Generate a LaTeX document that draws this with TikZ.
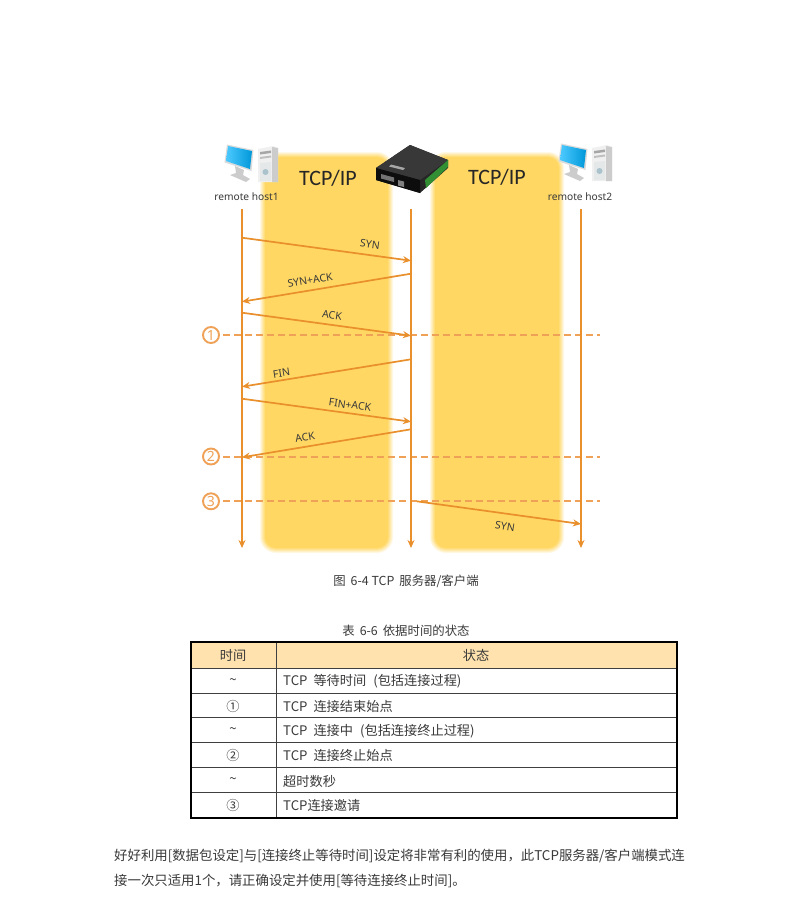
\documentclass[tikz,border=0pt]{standalone}
\usepackage{fontspec}
\setmainfont{Noto Sans CJK SC}
\newfontfamily\latinlabel{Noto Sans}
\newfontfamily\titlefont{Carlito}
\usetikzlibrary{arrows.meta}
\definecolor{bandc}{HTML}{FFD762}
\definecolor{flowc}{HTML}{E98F2B}
\definecolor{dashc}{HTML}{EFA257}
\definecolor{inkc}{HTML}{3A3A3A}
\definecolor{headc}{HTML}{FFE2AE}
\tikzset{
  x=1pt,y=-1pt,
  lifeline/.style={draw=flowc,line width=1.7pt,-{Stealth[length=8pt,width=7pt]}},
  message/.style={draw=flowc,line width=1.7pt,-{Stealth[length=8pt,width=7pt]}},
  timeline/.style={draw=dashc,line width=1.7pt,dash pattern=on 6.5pt off 4.5pt},
  msglabel/.style={font=\latinlabel\fontsize{10.5}{12}\selectfont,text=inkc,inner sep=0pt},
  hostlabel/.style={font=\latinlabel\fontsize{10.2}{12}\selectfont,text=inkc,inner sep=0pt},
  bandtitle/.style={font=\titlefont\fontsize{22}{24}\selectfont,text=black!85,inner sep=0pt},
  stepnum/.style={circle,draw=dashc,line width=1.9pt,minimum size=16pt,inner sep=0pt,text=dashc,font=\latinlabel\bfseries\fontsize{14}{15}\selectfont},
  caption/.style={font=\fontsize{12.4}{14}\selectfont,text=inkc,inner sep=0pt},
  cell/.style={font=\fontsize{13.2}{15}\selectfont,text=inkc,inner sep=0pt},
  para/.style={font=\fontsize{13.4}{15}\selectfont,text=inkc,inner sep=0pt,anchor=west},
  inner rule/.style={draw=black!75,line width=1pt},
}
\newcommand{\softband}[4]{%
  \foreach \i in {0,...,5}{
    \pgfmathsetmacro{\pc}{(\i+1)*100/6}
    \fill[bandc!\pc!white,rounded corners={16pt-\i*1pt}]
      ({#1+\i-3},{#2+\i-3}) rectangle ({#3-\i+3},{#4-\i+3});
  }}
\newcommand{\hosticon}[2]{%
  \begin{scope}[shift={(#1,#2)}]
    % tower
    \fill[black!6] (32,3) -- (47,0) -- (52,2) -- (52,36) -- (32,36) -- cycle;
    \fill[black!20] (46,1) -- (52,2) -- (52,36) -- (46,36) -- cycle;
    \fill[cyan!20!black!12] (34,17) -- (45,16) -- (45,35) -- (34,35) -- cycle;
    \fill[black!35] (34,6) -- (45,4.5) -- (45,7) -- (34,8.5) -- cycle;
    \fill[black!25] (34,11) -- (45,9.5) -- (45,11.5) -- (34,13) -- cycle;
    \fill[cyan!45!black!40] (39.5,26) circle (3);
    % monitor
    \fill[black!20] (9,20) -- (18,24) -- (17,29) -- (24,33) -- (20,36) -- (4,29) -- (10,27) -- cycle;
    \fill[black!14] (1,-1.5) -- (27.5,4) -- (25.5,25) -- (-1.5,16.5) -- cycle;
    \shade[left color=cyan!70!blue!70!white,right color=cyan!70!blue!85!black] (2,0) -- (26,5) -- (24,23) -- (0,15) -- cycle;
  \end{scope}}
\begin{document}
\begin{tikzpicture}
\useasboundingbox (0,0) rectangle (800,905);
\fill[white] (0,0) rectangle (800,905);
% bands
\softband{263}{155}{390}{550}
\softband{433}{155}{561}{550}
% host icons
\hosticon{226}{146}
\hosticon{560}{145}
% device
\fill[black!85] (376,168) -- (410,145) -- (448,160) -- (448,168) -- (420,193) -- (376,180) -- cycle;
\fill[black!78] (376,168) -- (410,145) -- (448,160) -- (420,180) -- cycle;
\fill[green!45!black!80] (425,180) -- (448,160) -- (448,167) -- (426,188) -- cycle;
\fill[black!95] (376,168) -- (420,180) -- (420,193) -- (376,180) -- cycle;
\fill[black!55] (381,174) -- (394,177.5) -- (394,182) -- (381,178.5) -- cycle;
\fill[black!50] (398,180) -- (404,181.5) -- (404,187) -- (398,185.5) -- cycle;
\fill[black!35] (391,164.5) -- (405,168) -- (403,170) -- (389,166.5) -- cycle;
% labels of columns
\node[hostlabel] (h1) at (246.5,197) {remote host1};
\node[hostlabel] (h2) at (580,197) {remote host2};
\node[bandtitle] (t1) at (328,178) {TCP/IP};
\node[bandtitle] (t2) at (497,177) {TCP/IP};
% lifeline ends
\coordinate (a0) at (242,209); \coordinate (a1) at (242,548);
\coordinate (b0) at (411,209); \coordinate (b1) at (411,548);
\coordinate (c0) at (581,209); \coordinate (c1) at (581,548);
% timelines
\node[stepnum] (n1) at (211,335) {1};
\node[stepnum] (n2) at (211,456.5) {2};
\node[stepnum] (n3) at (211,501.3) {3};
\coordinate (s1) at (223,335); \coordinate (e1) at (600,335);
\coordinate (s2) at (223,457); \coordinate (e2) at (600,457);
\coordinate (s3) at (223,501); \coordinate (e3) at (600,501);
\draw[timeline] (s1) -- (e1);
\draw[timeline] (s2) -- (e2);
\draw[timeline] (s3) -- (e3);
\draw[lifeline] (a0) -- (a1);
\draw[lifeline] (b0) -- (b1);
\draw[lifeline] (c0) -- (c1);
% messages
\coordinate (m1a) at (242,237.7); \coordinate (m1b) at (411,260.7);
\coordinate (m2a) at (411,273.7); \coordinate (m2b) at (242,301.7);
\coordinate (m3a) at (242,312.7); \coordinate (m3b) at (411,335.7);
\coordinate (m4a) at (411,359.3); \coordinate (m4b) at (242,386.7);
\coordinate (m5a) at (242,398.7); \coordinate (m5b) at (411,421.7);
\coordinate (m6a) at (411,429.3); \coordinate (m6b) at (242,457.3);
\coordinate (m7a) at (416.7,501.3); \coordinate (m7b) at (581,524);
\foreach \p/\q in {m1a/m1b,m2a/m2b,m3a/m3b,m4a/m4b,m5a/m5b,m6a/m6b,m7a/m7b}
  \draw[message] (\p) -- (\q);
\node[msglabel,rotate=-8] (l1) at (370,244.5) {SYN};
\node[msglabel,rotate=9.5] (l2) at (310,280) {SYN+ACK};
\node[msglabel,rotate=-8] (l3) at (332,315) {ACK};
\node[msglabel,rotate=9] (l4) at (281.5,373) {FIN};
\node[msglabel,rotate=-8] (l5) at (350,405) {FIN+ACK};
\node[msglabel,rotate=9.5] (l6) at (305,437) {ACK};
\node[msglabel,rotate=-9] (l7) at (505,526) {SYN};
% captions
\node[caption] (cap1) at (406,581.5) {图\hspace{5pt}6-4 TCP\hspace{5pt}服务器/客户端};
\node[caption] (cap2) at (406,630.5) {表\hspace{5pt}6-6\hspace{5pt}依据时间的状态};
% table
\fill[headc] (190.5,642.5) rectangle (676.5,668.3);
\draw[inner rule] (190,668.3) -- (677,668.3);
\draw[inner rule] (190,693.3) -- (677,693.3);
\draw[inner rule] (190,717.7) -- (677,717.7);
\draw[inner rule] (190,742.7) -- (677,742.7);
\draw[inner rule] (190,767.7) -- (677,767.7);
\draw[inner rule] (190,792.7) -- (677,792.7);
\draw[inner rule] (276,642.3) -- (276,818.3);
\draw[black,line width=2pt] (190.5,642.3) rectangle (676.7,818.3);
\node[cell] (th1) at (233,655.5) {时间};
\node[cell] (th2) at (476,655.5) {状态};
\node[cell] (r1a) at (233,681.5) {\textasciitilde};
\node[cell] (r2a) at (233,706) {①};
\node[cell] (r3a) at (233,731) {\textasciitilde};
\node[cell] (r4a) at (233,755.5) {②};
\node[cell] (r5a) at (233,781) {\textasciitilde};
\node[cell] (r6a) at (233,805.5) {③};
\node[cell,anchor=west] (r1b) at (283,681.5) {TCP\hspace{6pt}等待时间\hspace{7pt}(包括连接过程)};
\node[cell,anchor=west] (r2b) at (283,706) {TCP\hspace{6pt}连接结束始点};
\node[cell,anchor=west] (r3b) at (283,731) {TCP\hspace{6pt}连接中\hspace{7pt}(包括连接终止过程)};
\node[cell,anchor=west] (r4b) at (283,755.5) {TCP\hspace{6pt}连接终止始点};
\node[cell,anchor=west] (r5b) at (283,781) {超时数秒};
\node[cell,anchor=west] (r6b) at (283,805.5) {TCP连接邀请};
% paragraph
\node[para] (p1) at (114,856) {好好利用[数据包设定]与[连接终止等待时间]设定将非常有利的使用\char"FF0C 此TCP服务器/客户端模式连};
\node[para] (p2) at (114,881) {接一次只适用1个\char"FF0C 请正确设定并使用[等待连接终止时间]。};
\end{tikzpicture}
\end{document}
